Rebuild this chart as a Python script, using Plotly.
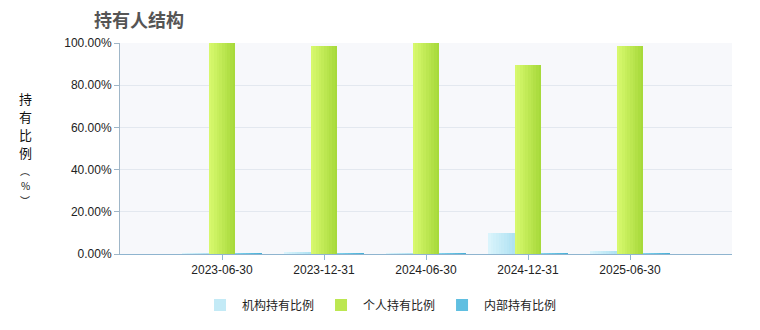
import plotly.graph_objects as go

categories = ["2023-06-30", "2023-12-31", "2024-06-30", "2024-12-31", "2025-06-30"]
series_names = ["机构持有比例", "个人持有比例", "内部持有比例"]
inst_values = [0.4, 1.0, 0.4, 10.1, 1.4]
indiv_values = [99.8, 98.6, 99.8, 89.6, 98.6]
inner_values = [0.4, 0.4, 0.4, 0.4, 0.4]
y_tick_vals = [0, 20, 40, 60, 80, 100]
y_tick_text = ["0.00%", "20.00%", "40.00%", "60.00%", "80.00%", "100.00%"]
y_title_chars = ["持", "有", "比", "例", "︵", "%", "︶"]

gradients = [
    ((0xDC, 0xF5, 0xFC), (0xAE, 0xE1, 0xF2)),
    ((0xDA, 0xFA, 0x70), (0xA4, 0xD8, 0x38)),
    ((0x80, 0xD4, 0xEE), (0x46, 0xAE, 0xD6)),
]

def lerp(c0, c1, t):
    return "rgb(%d,%d,%d)" % tuple(round(a + (b - a) * t) for a, b in zip(c0, c1))

fig = go.Figure()
bar_w = 0.262
n_strips = 10
strip_w = bar_w / n_strips
all_vals = [inst_values, indiv_values, inner_values]
x_idx = list(range(len(categories)))
for s, (name, vals) in enumerate(zip(series_names, all_vals)):
    base_off = -1.5 * bar_w + s * bar_w
    c0, c1 = gradients[s]
    for k in range(n_strips):
        t = (k + 0.5) / n_strips
        fig.add_trace(go.Bar(
            x=x_idx, y=vals, name=name,
            width=strip_w * 1.02, offset=base_off + k * strip_w,
            marker=dict(color=lerp(c0, c1, t), line=dict(width=0)),
            legendgroup=name, showlegend=(k == n_strips // 2),
            hoverinfo="skip",
        ))

fig.update_layout(
    width=760, height=330,
    margin=dict(l=120, r=28, t=43, b=76),
    barmode="overlay",
    paper_bgcolor="white",
    plot_bgcolor="#f7f8fb",
    font=dict(family="Liberation Sans, Arial", size=12, color="#333"),
    title=dict(text="<b>持有人结构</b>", x=94 / 760, xanchor="left", xref="container",
               y=1 - 21 / 330, yanchor="middle", yref="container",
               font=dict(family="Noto Sans CJK SC", size=18, color="#555")),
    legend=dict(orientation="h", x=0.5, xanchor="center", xref="container",
                y=1 - 305 / 330, yanchor="middle", yref="container",
                font=dict(family="Noto Sans CJK SC", size=12, color="#222"),
                itemwidth=34, traceorder="normal"),
    showlegend=True,
    bargap=0,
)
fig.update_xaxes(
    tickmode="array", tickvals=x_idx, ticktext=categories,
    range=[-1, len(categories)],
    showgrid=False, zeroline=False,
    showline=True, linecolor="#8fb4cf", linewidth=1,
    ticks="outside", ticklen=5, tickcolor="#8fb4cf",
    tickfont=dict(family="Liberation Sans, Arial", size=12, color="#222"),
)
fig.update_yaxes(
    range=[0, 100], tickmode="array", tickvals=y_tick_vals, ticktext=y_tick_text,
    showgrid=True, gridcolor="#e3e8ef", gridwidth=1, zeroline=False,
    showline=True, linecolor="#9fb6c8", linewidth=1,
    ticks="outside", ticklen=5, tickcolor="#9fb6c8",
    tickfont=dict(family="Liberation Sans, Arial", size=12, color="#222"),
)
char_y = [98, 116, 134, 152, 170, 185, 200]
for ch, py in zip(y_title_chars, char_y):
    fig.add_annotation(
        text=ch, xref="paper", yref="paper",
        x=(25 - 120) / 612, y=(254 - py) / 211,
        xanchor="center", yanchor="middle", showarrow=False,
        font=dict(family="Noto Sans CJK SC", size=13 if ch in "持有比例" else 10, color="#111"),
    )
fig.write_html("out.html")
